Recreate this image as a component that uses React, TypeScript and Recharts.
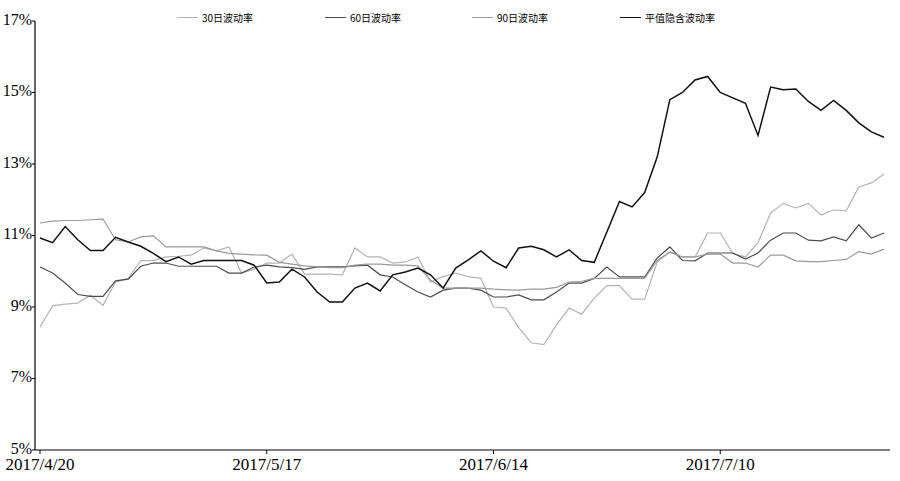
import React from "react";
import { LineChart, Line, XAxis, YAxis } from "recharts";

const dates = [
  "2017/4/20","2017/4/21","2017/4/24","2017/4/25","2017/4/26","2017/4/27","2017/4/28",
  "2017/5/2","2017/5/3","2017/5/4","2017/5/5","2017/5/8","2017/5/9","2017/5/10","2017/5/11","2017/5/12",
  "2017/5/15","2017/5/16","2017/5/17","2017/5/18","2017/5/19","2017/5/22","2017/5/23","2017/5/24","2017/5/25","2017/5/26",
  "2017/5/31","2017/6/1","2017/6/2","2017/6/5","2017/6/6","2017/6/7","2017/6/8","2017/6/9","2017/6/12","2017/6/13","2017/6/14",
  "2017/6/15","2017/6/16","2017/6/19","2017/6/20","2017/6/21","2017/6/22","2017/6/23","2017/6/26","2017/6/27","2017/6/28",
  "2017/6/29","2017/6/30","2017/7/3","2017/7/4","2017/7/5","2017/7/6","2017/7/7","2017/7/10","2017/7/11","2017/7/12",
  "2017/7/13","2017/7/14","2017/7/17","2017/7/18","2017/7/19","2017/7/20","2017/7/21","2017/7/24","2017/7/25","2017/7/26","2017/7/27"
];

const vol30 = [
  8.44, 9.03, 9.08, 9.11, 9.33, 9.05, 9.7, 9.8, 10.3, 10.3,
  10.4, 10.42, 10.45, 10.65, 10.57, 10.68, 9.95, 10.06, 10.23, 10.23,
  10.48, 9.92, 9.92, 9.92, 9.9, 10.65, 10.4, 10.4, 10.23, 10.26,
  10.4, 9.7, 9.85, 9.95, 9.85, 9.8, 9.0, 8.97, 8.42, 8.0,
  7.95, 8.5, 8.97, 8.8, 9.25, 9.6, 9.6, 9.22, 9.22, 10.26,
  10.54, 10.4, 10.4, 11.07, 11.07, 10.5, 10.4, 10.8, 11.63, 11.9,
  11.77, 11.9, 11.57, 11.72, 11.69, 12.36, 12.47, 12.72
];

const vol60 = [
  10.12, 9.95, 9.67, 9.35, 9.3, 9.3, 9.73, 9.78, 10.14, 10.23,
  10.23, 10.14, 10.14, 10.14, 10.14, 9.95, 9.95, 10.12, 10.17, 10.12,
  10.1, 10.05, 10.12, 10.12, 10.12, 10.15, 10.17, 9.9, 9.84, 9.62,
  9.42, 9.28, 9.47, 9.53, 9.53, 9.47, 9.28, 9.28, 9.34, 9.2,
  9.2, 9.42, 9.67, 9.67, 9.8, 10.12, 9.84, 9.84, 9.84, 10.37,
  10.68, 10.3, 10.29, 10.51, 10.51, 10.51, 10.34, 10.51, 10.87, 11.07,
  11.07, 10.87, 10.85, 10.96, 10.85, 11.3, 10.93, 11.07
];

const vol90 = [
  11.35, 11.4, 11.42, 11.42, 11.44, 11.46, 10.88, 10.82, 10.96, 10.99,
  10.68, 10.68, 10.68, 10.68, 10.57, 10.5, 10.48, 10.46, 10.45, 10.25,
  10.2, 10.15, 10.12, 10.1, 10.1, 10.17, 10.2, 10.2, 10.17, 10.17,
  10.15, 9.75, 9.53, 9.53, 9.53, 9.53, 9.5, 9.48, 9.47, 9.5,
  9.5, 9.55, 9.7, 9.72, 9.8, 9.8, 9.8, 9.8, 9.8, 10.3,
  10.54, 10.4, 10.4, 10.48, 10.48, 10.23, 10.23, 10.12, 10.45, 10.45,
  10.29, 10.27, 10.27, 10.3, 10.33, 10.55, 10.48, 10.62
];

const atmIV = [
  10.93, 10.8, 11.25, 10.88, 10.58, 10.58, 10.95, 10.82, 10.7, 10.5,
  10.27, 10.4, 10.2, 10.3, 10.3, 10.3, 10.3, 10.17, 9.67, 9.7,
  10.06, 9.84, 9.42, 9.14, 9.14, 9.53, 9.67, 9.45, 9.9, 9.98,
  10.09, 9.9, 9.53, 10.09, 10.32, 10.57, 10.28, 10.1, 10.65, 10.7,
  10.6, 10.4, 10.6, 10.3, 10.25, 11.1, 11.95, 11.8, 12.2, 13.2,
  14.8, 15.0, 15.35, 15.45, 15.0, 14.85, 14.7, 13.8, 15.15, 15.08,
  15.1, 14.75, 14.5, 14.78, 14.5, 14.15, 13.9, 13.75
];

const yTicks = [5, 7, 9, 11, 13, 15, 17];

const seriesNames = ["30日波动率", "60日波动率", "90日波动率", "平值隐含波动率"];
const seriesColors = ["#b4b4b4", "#4d4d4d", "#9a9a9a", "#111111"];
const seriesWidths = [1.2, 1.2, 1.2, 1.5];
const legendLefts = [177, 325, 472, 620];

const data = dates.map((d, i) => ({
  date: d,
  v30: vol30[i],
  v60: vol60[i],
  v90: vol90[i],
  iv: atmIV[i],
}));
const keys = ["v30", "v60", "v90", "iv"];

const serif = '"Liberation Serif", "DejaVu Serif", serif';

export default function App() {
  return (
    <div style={{ position: "fixed", left: 0, top: 0, width: 900, height: 481, background: "#fff" }}>
      <LineChart
        width={900}
        height={481}
        data={data}
        margin={{ top: 21, right: 10, bottom: 0, left: 0 }}
      >
        <XAxis
          dataKey="date"
          interval={17}
          height={31}
          padding={{ left: 5, right: 6 }}
          tickSize={4}
          tickMargin={4}
          axisLine={{ stroke: "#000", strokeWidth: 1.2 }}
          tickLine={{ stroke: "#000" }}
          tick={{ fill: "#000", fontSize: 17, fontFamily: serif }}
        />
        <YAxis
          domain={[5, 17]}
          ticks={yTicks}
          width={35}
          tickSize={3}
          tickMargin={0}
          tickFormatter={(v: number) => `${v}%`}
          axisLine={{ stroke: "#000", strokeWidth: 1.2 }}
          tickLine={{ stroke: "#000" }}
          tick={{ fill: "#000", fontSize: 16, fontFamily: serif, dy: -2 }}
          allowDataOverflow
        />
        {keys.map((k, i) => (
          <Line
            key={k}
            type="linear"
            dataKey={k}
            name={seriesNames[i]}
            stroke={seriesColors[i]}
            strokeWidth={seriesWidths[i]}
            dot={false}
            activeDot={false}
            isAnimationActive={false}
          />
        ))}
      </LineChart>
      {seriesNames.map((n, i) => (
        <div
          key={n}
          style={{
            position: "absolute",
            left: legendLefts[i],
            top: 10,
            height: 14,
            display: "flex",
            alignItems: "center",
            fontSize: 10,
            fontFamily: '"Noto Sans CJK SC", sans-serif',
            color: "#000",
            whiteSpace: "nowrap",
          }}
        >
          <span style={{ display: "inline-block", width: 21, height: 0, borderTop: `1px solid ${seriesColors[i]}`, marginRight: 4 }} />
          <span>{n}</span>
        </div>
      ))}
    </div>
  );
}
